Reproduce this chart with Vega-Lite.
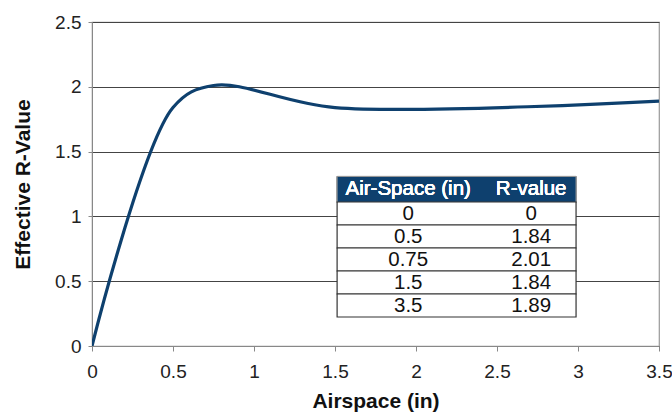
{
  "$schema": "https://vega.github.io/schema/vega-lite/v6.json",
  "width": 567,
  "height": 324,
  "autosize": {"type": "none"},
  "padding": {"left": 92, "top": 22, "right": 13, "bottom": 68},
  "background": "white",
  "config": {
    "font": "Liberation Sans",
    "view": {"stroke": "#999999", "strokeWidth": 1.2},
    "axis": {
      "labelFont": "Liberation Sans",
      "titleFont": "Liberation Sans",
      "labelColor": "#222222",
      "titleColor": "#111111",
      "domainColor": "#888888",
      "tickColor": "#888888",
      "labelFontSize": 19,
      "titleFontSize": 21,
      "titleFontWeight": "bold"
    }
  },
  "data": {
    "values": [
      {"air": 0, "r": 0},
      {"air": 0.5, "r": 1.84},
      {"air": 0.75, "r": 2.01},
      {"air": 1.5, "r": 1.84},
      {"air": 3.5, "r": 1.89}
    ]
  },
  "layer": [
    {
      "layer": [
        {
          "mark": {"type": "line", "interpolate": "catmull-rom", "color": "#0e406e", "strokeWidth": 3.2, "clip": true},
          "encoding": {
            "x": {
              "field": "air", "type": "quantitative",
              "scale": {"domain": [0, 3.5], "nice": false, "zero": false},
              "title": "Airspace (in)",
              "axis": {"values": [0, 0.5, 1, 1.5, 2, 2.5, 3, 3.5], "format": "~g", "grid": false, "tickSize": 5, "labelPadding": 11, "titlePadding": 9, "labelFlush": false, "labelOverlap": false}
            },
            "y": {
              "field": "r", "type": "quantitative",
              "scale": {"domain": [0, 2.5], "nice": false},
              "title": "Effective R-Value",
              "axis": {"values": [0, 0.5, 1, 1.5, 2, 2.5], "format": "~g", "grid": true, "gridColor": "#444444", "gridWidth": 1.2, "tickSize": 4, "labelPadding": 7, "titlePadding": 21, "labelFlush": false, "labelOverlap": false}
            }
          }
        },
        {
          "mark": {"type": "rect", "color": "#0e406e", "stroke": "#999999", "strokeWidth": 1},
          "encoding": {
            "x": {"datum": 1.513, "type": "quantitative"},
            "x2": {"datum": 2.988},
            "y": {"datum": 1.308, "type": "quantitative"},
            "y2": {"datum": 1.108}
          }
        },
        {
          "mark": {"type": "text", "text": "Air-Space (in)", "color": "white", "fontSize": 20.5, "align": "center", "baseline": "middle"},
          "encoding": {
            "x": {"datum": 1.952, "type": "quantitative"},
            "y": {"datum": 1.208, "type": "quantitative"}
          }
        },
        {
          "mark": {"type": "text", "text": "R-value", "color": "white", "fontSize": 20.5, "align": "center", "baseline": "middle"},
          "encoding": {
            "x": {"datum": 2.711, "type": "quantitative"},
            "y": {"datum": 1.208, "type": "quantitative"}
          }
        }
      ]
    },
    {
      "layer": [
        {
          "mark": {"type": "rect", "fill": "white", "stroke": "#333333", "strokeWidth": 1.2},
          "encoding": {
            "x": {"datum": 1.513, "type": "quantitative"},
            "x2": {"datum": 2.988},
            "y": {"field": "air", "type": "ordinal", "scale": {"type": "band", "range": [180, 295], "paddingInner": 0, "paddingOuter": 0}, "axis": null}
          }
        },
        {
          "mark": {"type": "text", "color": "#111111", "fontSize": 20.5, "align": "center", "baseline": "middle"},
          "encoding": {
            "x": {"datum": 1.952, "type": "quantitative"},
            "y": {"field": "air", "type": "ordinal", "axis": null},
            "text": {"field": "air", "type": "nominal"}
          }
        },
        {
          "mark": {"type": "text", "color": "#111111", "fontSize": 20.5, "align": "center", "baseline": "middle"},
          "encoding": {
            "x": {"datum": 2.711, "type": "quantitative"},
            "y": {"field": "air", "type": "ordinal", "axis": null},
            "text": {"field": "r", "type": "nominal"}
          }
        }
      ]
    }
  ],
  "resolve": {"scale": {"y": "independent"}, "axis": {"y": "independent"}}
}
